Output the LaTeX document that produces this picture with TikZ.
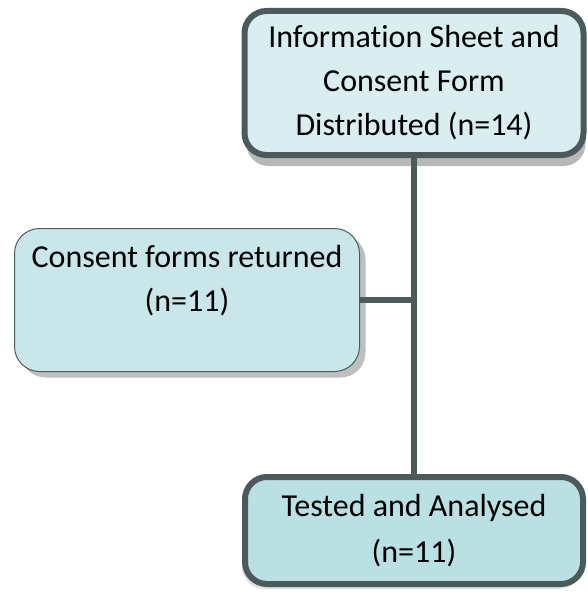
\documentclass[tikz,border=0pt]{standalone}
\usepackage{fontspec}
\setmainfont{Carlito}[Ligatures=NoCommon]
\usepackage{tikz}
\usetikzlibrary{shadows}
\definecolor{box_line}{RGB}{75, 91, 92}
\definecolor{box_top}{RGB}{218, 238, 241}
\definecolor{box_mid}{RGB}{201, 231, 234}
\definecolor{box_low}{RGB}{187, 224, 227}
\tikzstyle{tb}=[rectangle,rounded corners=22pt,fill=box_top,draw=box_line,
  line width=6pt,align=center,minimum width=339pt,minimum height=144pt,
  drop shadow={shadow xshift=2pt,shadow yshift=-11pt,fill=black!28,opacity=1}]
\tikzstyle{mb}=[rectangle,rounded corners=25pt,fill=box_mid,draw=box_line,
  line width=1pt,align=center,minimum width=345pt,minimum height=143pt,
  drop shadow={shadow xshift=6pt,shadow yshift=-6pt,fill=black!25,opacity=1}]
\tikzstyle{lb}=[rectangle,rounded corners=22pt,fill=box_low,draw=box_line,
  line width=6pt,align=center,minimum width=338pt,minimum height=107pt,
  drop shadow={shadow xshift=-3pt,shadow yshift=-5pt,fill=black!12,opacity=1}]
\tikzstyle{link}=[draw=box_line,line width=6pt]

\begin{document}
\begin{tikzpicture}[x=1pt, y=1pt, every node/.style={font=\fontsize{32}{44}\selectfont}]
            \useasboundingbox (0, 0) rectangle (587, -594);
            \node [style=tb] (0) at (414, -83) {Information Sheet and\\Consent Form\\Distributed (n=14)};
            \node [style=mb] (1) at (187, -300) {Consent forms returned\\(n=11)\\\mbox{}};
            \node [style=lb] (2) at (414, -530.5) {Tested and Analysed\\[2pt](n=11)};
            \draw [style=link] (0) to (2);
            \draw [style=link] (1) to (1 -| 0);
    \end{tikzpicture}
\end{document}
